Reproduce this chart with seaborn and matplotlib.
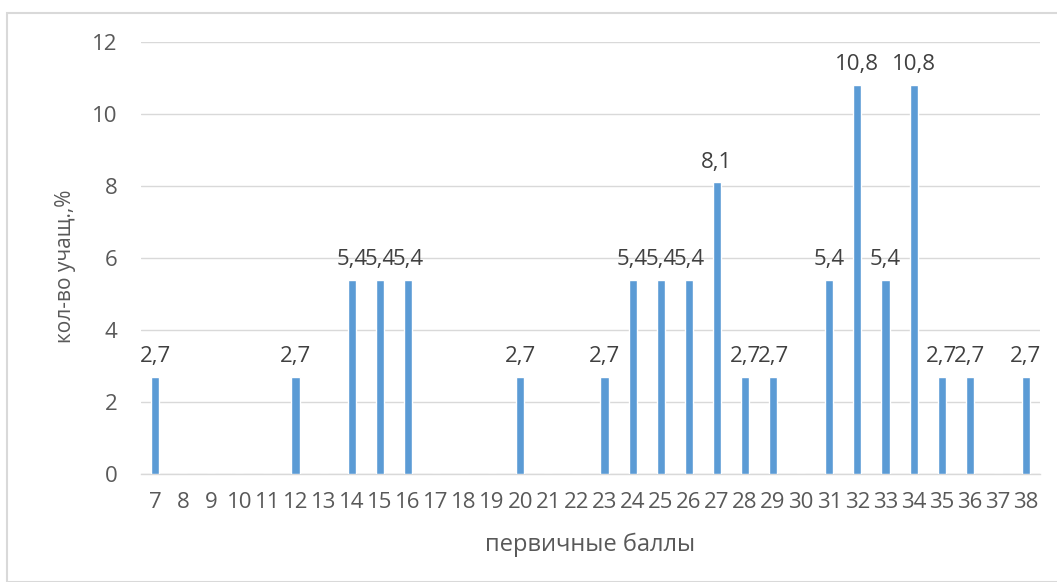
import matplotlib
matplotlib.use("Agg")
import matplotlib.pyplot as plt
import seaborn as sns
import pandas as pd
from matplotlib.patches import Rectangle

scores = list(range(7, 39))
percent = [2.7, 0, 0, 0, 0, 2.7, 0, 5.4, 5.4, 5.4, 0, 0, 0, 2.7, 0, 0, 2.7, 5.4, 5.4, 5.4,
           8.1, 2.7, 2.7, 0, 5.4, 10.8, 5.4, 10.8, 2.7, 2.7, 0, 2.7]
labels = [str(s) for s in scores]

sns.set_theme(style="white")
plt.rcParams['font.family'] = ['Open Sans', 'DejaVu Sans']

df = pd.DataFrame({"score": labels, "pct": percent})

fig = plt.figure(figsize=(10.57, 5.82), dpi=100)
ax = fig.add_axes([141/1057, 1-474/582, (1040-141)/1057, (474-42)/582])
fig.patches.append(Rectangle((7/1057, 0.0), 1.2, 1-13/582, transform=fig.transFigure,
                             fill=False, edgecolor="#d9d9d9", linewidth=1.5, zorder=-1))

sns.barplot(data=df, x="score", y="pct", order=labels, color="#5b9bd5", saturation=1,
            width=0.29, ax=ax, zorder=3)

ax.set_ylim(0, 12)
ax.set_xlim(-0.5, len(labels) - 0.5)
ax.set_yticks([0, 2, 4, 6, 8, 10, 12])
ax.yaxis.grid(True, color="#d9d9d9", linewidth=1)
ax.set_axisbelow(True)
for s in ["top", "right", "left"]:
    ax.spines[s].set_visible(False)
ax.spines["bottom"].set_color("#d9d9d9")
ax.spines["bottom"].set_linewidth(1)
ax.tick_params(axis="both", length=0, colors="#595959", labelsize=16)
ax.tick_params(axis="y", pad=17)
ax.tick_params(axis="x", pad=13)

for i, v in enumerate(percent):
    if v > 0:
        ax.annotate(f"{v:.1f}".replace(".", ","), (i, v), xytext=(0, 7), textcoords="offset points",
                    ha="center", va="bottom", fontsize=16, color="#404040")

ax.set_xlabel("первичные баллы", fontsize=17, color="#595959")
ax.set_ylabel("кол-во учащ.,%", fontsize=15, color="#595959")
ax.xaxis.set_label_coords(0.5, -(545-474)/432)
ax.xaxis.label.set_va("center")
ax.yaxis.set_label_coords(-(141-65)/899, 0.48)
ax.yaxis.label.set_va("center")

fig.savefig("out.png", dpi=100)
